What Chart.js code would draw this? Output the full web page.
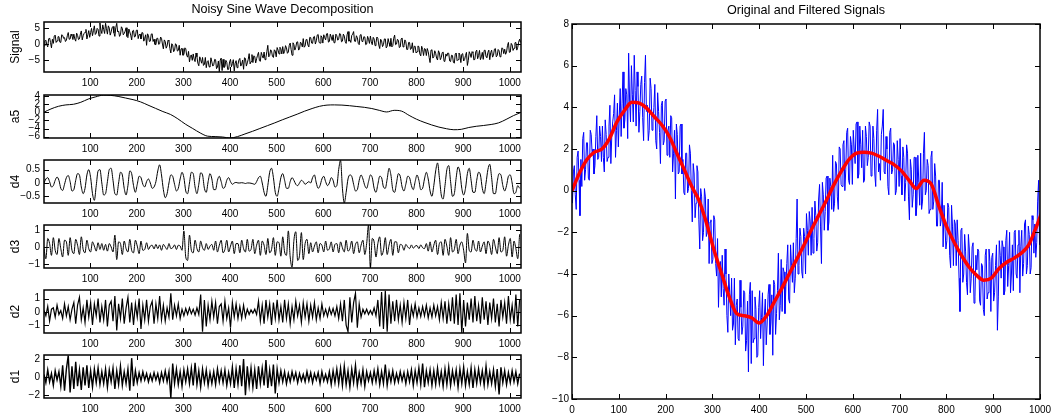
<!DOCTYPE html>
<html>
<head>
<meta charset="utf-8">
<script src="https://cdn.jsdelivr.net/npm/chart.js@4.4.0/dist/chart.umd.min.js"></script>
<style>
  html, body { margin: 0; padding: 0; background: #fff; }
  body { width: 1063px; height: 418px; position: relative; overflow: hidden; }
  canvas { position: absolute; }
</style>
</head>
<body>
<script>
// samples between stored points (signal and details), and for the approximation
const sampleStep = 4;
const a5Step = 16;

// noisy signal, read at samples 1, 5, 9, ... 1021
const signal = [
  -0.6, 1.2, -0.9, 1.9, -1.2, 0.2, 2.8, 1.0, 2.3, 0.5, 2.7, 2.0, 1.2, 3.6, 1.6, 2.6,
  3.1, 0.9, 2.7, 1.6, 4.1, 2.6, 3.7, 1.6, 4.2, 3.6, 2.6, 5.7, 3.4, 4.6, 6.6, 3.3,
  4.6, 6.5, 3.1, 5.0, 3.8, 5.5, 2.4, 6.5, 4.1, 2.9, 4.9, 3.3, 5.1, 2.0, 3.8, 1.3,
  4.3, 2.4, 4.4, 2.9, 1.6, 3.5, 1.8, -0.4, 2.7, 0.9, 3.2, 1.5, -0.2, 1.8, 0.1, 1.8,
  -1.5, 0.8, -0.6, 0.9, -2.8, -0.3, -2.0, -0.3, -2.0, -3.5, -1.4, -3.3, -1.4, -4.1, -5.6, -3.4,
  -3.1, -5.5, -4.0, -6.8, -4.9, -4.2, -6.4, -7.4, -5.2, -7.2, -5.6, -6.5, -4.9, -7.2, -8.7, -4.4,
  -4.8, -7.1, -5.7, -7.9, -4.8, -6.1, -8.4, -5.2, -6.4, -4.5, -6.3, -7.9, -4.5, -5.9, -3.0, -5.5,
  -5.8, -3.9, -4.6, -2.6, -5.4, -3.6, -2.5, -4.2, -0.4, -3.6, -2.2, -4.2, -2.2, -1.1, -3.1, -1.5,
  -0.8, -2.3, -1.2, -2.5, 0.3, -3.5, -0.2, -1.0, 0.7, -1.5, 0.2, 1.7, -0.6, 1.3, -0.9, 2.0,
  0.2, 2.4, 1.0, 3.0, 0.3, 2.2, 2.9, 1.3, 3.3, 0.8, 2.2, 2.9, 0.5, 2.6, 1.6, 3.1,
  0.9, 2.5, 0.2, 3.9, 1.3, 2.7, 3.9, 0.8, 2.0, -0.2, 3.0, 1.0, 2.2, 0.0, 1.5, 2.5,
  -0.2, 1.6, 0.4, 1.8, -1.4, 1.0, -0.2, 1.6, -0.7, 0.4, 1.8, -0.5, 2.8, 0.0, 1.2, -0.9,
  1.9, -0.5, 0.7, -1.7, 0.5, -1.4, -2.7, -0.7, -2.4, -0.8, -3.7, -1.7, -1.4, -3.6, -2.4, -5.8,
  -1.8, -4.0, -2.9, -5.0, -2.8, -4.2, -2.5, -5.1, -3.8, -2.9, -5.5, -3.6, -6.0, -2.8, -4.9, -3.4,
  -3.2, -5.3, -3.6, -6.7, -2.4, -4.2, -2.7, -4.8, -1.9, -3.6, -4.9, -2.6, -2.0, -4.0, -2.6, -4.9,
  -1.9, -3.5, -1.4, -3.6, -2.1, -3.7, -1.4, -1.6, -2.5, 0.5, -2.5, -0.3, -1.3, 0.5, -1.0, 1.5
];

// the same signal read in between, at samples 3, 7, 11, ... 1023
const signalMid = [
  0.9, -0.2, 1.6, 0.5, 1.5, 2.5, 0.5, 2.3, 0.6, 2.9, 1.8, 0.8, 2.6, 1.5, 3.1, 1.4,
  1.6, 3.4, 1.4, 3.1, 1.3, 3.3, 4.6, 2.9, 2.1, 4.9, 4.2, 3.0, 4.9, 2.5, 4.4, 6.0,
  3.3, 4.8, 5.7, 2.8, 5.1, 3.5, 5.2, 3.8, 2.4, 5.4, 2.9, 4.0, 2.4, 4.7, 2.8, 4.1,
  2.2, 4.3, 1.7, 3.1, 3.6, 0.9, 2.9, 3.2, 0.8, 3.1, 0.8, -0.1, 1.8, -0.1, 2.2, 0.0,
  1.3, -1.3, 1.2, -1.4, 0.1, -2.4, 0.1, -2.2, -0.4, -1.5, -3.5, -1.2, -3.5, -2.3, -3.8, -5.1,
  -4.7, -2.8, -6.0, -4.0, -6.0, -6.7, -4.2, -5.5, -7.1, -4.3, -6.9, -4.8, -7.7, -5.3, -5.0, -8.3,
  -7.3, -5.1, -8.0, -5.6, -7.1, -4.9, -6.0, -7.4, -5.0, -6.9, -5.0, -4.3, -6.9, -4.8, -6.2, -3.3,
  -3.7, -5.9, -3.5, -5.2, -2.6, -4.4, -4.9, -2.3, -4.0, -1.8, -3.9, -1.8, -4.0, -1.9, -1.0, -3.1,
  -3.0, -0.5, -2.9, -0.4, -1.7, 0.4, -1.9, 0.6, -1.9, 0.6, -0.9, -1.0, 1.4, -0.3, 2.1, 0.3,
  2.2, 0.0, 2.8, 0.5, 2.6, 0.3, 2.0, 3.2, 0.6, 3.1, 1.1, 0.4, 3.1, 1.2, 3.3, 0.7,
  3.1, 0.8, 2.9, 0.9, 0.5, 3.1, 0.9, 2.6, 0.2, 2.8, 0.8, 2.3, -0.2, 2.4, 0.2, 0.7,
  2.1, -0.5, 2.2, -0.3, 1.5, -0.8, 1.6, -1.2, 1.7, -0.7, -0.9, 1.8, -0.2, 1.5, -1.1, 1.6,
  -0.9, 1.3, -1.7, 0.5, -1.7, 0.4, -0.7, -2.8, -0.6, -3.1, -0.7, -3.6, -1.6, -1.4, -4.2, -1.9,
  -4.4, -2.1, -4.4, -2.1, -4.9, -2.7, -5.4, -3.1, -2.8, -5.3, -3.5, -5.7, -3.1, -5.2, -2.8, -5.8,
  -3.0, -4.9, -2.6, -5.1, -3.1, -2.4, -5.0, -2.4, -4.6, -2.0, -4.0, -4.8, -1.9, -4.2, -1.9, -2.7,
  -4.1, -1.6, -4.0, -1.7, -4.0, -1.2, -3.0, -3.2, -0.5, -2.6, 0.2, -2.0, 0.4, -1.9, 0.6, 0.5
];

// level-5 approximation (also the filtered red line), every 16th sample from 0
const a5 = [
  0.0, 0.85, 1.5, 1.85, 2.0, 2.5, 3.3, 3.85, 4.25, 4.2, 3.95, 3.55, 3.15, 2.6, 1.8, 1.0,
  0.2, -0.5, -1.6, -2.9, -4.0, -5.1, -5.9, -6.0, -6.1, -6.35, -6.0, -5.35, -4.7, -4.0, -3.3, -2.6,
  -1.85, -1.15, -0.45, 0.3, 0.95, 1.5, 1.8, 1.85, 1.8, 1.65, 1.45, 1.25, 0.95, 0.5, 0.1, 0.5,
  0.3, -0.75, -1.7, -2.45, -3.1, -3.65, -4.05, -4.3, -4.2, -3.75, -3.45, -3.25, -3.0, -2.6, -1.75, -0.8,
  0.0
];

const d4 = [
  0.0, 0.15, 0.2, 0.05, -0.15, -0.1, 0.1, 0.22, 0.1, -0.2, -0.28, -0.05, 0.2, 0.28, 0.05, -0.3,
  -0.25, 0.1, 0.35, 0.3, -0.15, -0.4, -0.2, 0.3, 0.5, 0.2, -0.4, -0.65, -0.1, 0.45, 0.5, 0.0,
  -0.45, -0.4, 0.05, 0.5, 0.55, 0.1, -0.4, -0.45, 0.0, 0.4, 0.3, -0.2, -0.45, -0.1, 0.45, 0.35,
  -0.1, -0.35, -0.05, 0.25, 0.2, -0.05, -0.15, 0.05, 0.15, 0.0, -0.2, -0.15, 0.05, 0.45, 0.68, 0.3,
  -0.25, -0.55, -0.4, 0.0, 0.3, 0.25, -0.05, -0.3, -0.2, 0.15, 0.4, 0.2, -0.3, -0.4, 0.0, 0.4,
  0.35, -0.15, -0.4, -0.05, 0.38, 0.3, -0.2, -0.35, 0.05, 0.35, 0.15, -0.25, -0.25, 0.1, 0.25, 0.05,
  -0.2, -0.15, 0.1, 0.2, 0.05, -0.05, 0.0, 0.02, 0.0, 0.0, 0.01, 0.0, -0.02, 0.0, 0.0, -0.01,
  -0.03, -0.05, 0.05, 0.2, 0.25, 0.0, -0.35, -0.5, -0.1, 0.4, 0.55, 0.2, -0.35, -0.5, -0.2, 0.2,
  0.35, 0.1, -0.2, -0.2, 0.05, 0.2, 0.1, -0.05, -0.1, 0.0, 0.1, 0.05, -0.05, 0.0, 0.05, 0.0,
  0.2, 0.3, 0.0, -0.2, -0.1, 0.15, 0.25, 0.05, -0.1, 0.0, 0.2, 0.1, -0.15, -0.1, 0.5, 0.85,
  -0.2, -0.75, -0.35, 0.15, 0.3, 0.25, -0.05, -0.3, -0.25, 0.1, 0.3, 0.15, -0.1, -0.2, 0.05, 0.3,
  0.2, -0.2, -0.35, -0.05, 0.25, 0.2, -0.15, -0.2, 0.15, 0.55, 0.3, -0.25, -0.35, 0.0, 0.35, 0.25,
  -0.15, -0.3, -0.05, 0.25, 0.2, -0.1, -0.25, 0.05, 0.3, 0.1, -0.25, -0.2, 0.15, 0.4, 0.15, -0.3,
  -0.5, -0.1, 0.45, 0.75, 0.2, -0.45, -0.6, -0.1, 0.5, 0.65, 0.05, -0.5, -0.4, 0.2, 0.6, 0.4,
  -0.2, -0.45, -0.2, 0.35, 0.55, 0.1, -0.35, -0.35, 0.1, 0.4, 0.3, -0.2, -0.4, 0.0, 0.5, 0.7,
  0.2, -0.4, -0.4, 0.05, 0.35, 0.3, -0.1, -0.3, -0.1, 0.25, 0.3, 0.0, -0.4, -0.35, -0.1, -0.2
];

const d3 = [
  -0.1, -0.7, 0.5, 0.2, -0.5, 0.55, -0.2, -0.45, 0.5, -0.1, -0.6, 0.4, 0.3, -0.5, 0.55, -0.2,
  -0.4, 0.45, 0.1, -0.45, 0.6, -0.15, -0.35, 0.4, -0.1, -0.3, 0.3, 0.05, -0.25, 0.25, -0.15, 0.2,
  -0.2, 0.15, -0.25, 0.2, 0.0, -0.3, 0.7, -0.75, 0.3, 0.2, -0.45, 0.35, -0.1, -0.3, 0.45, -0.2,
  -0.35, 0.4, 0.05, -0.4, 0.35, -0.2, -0.15, 0.25, -0.15, 0.05, 0.1, -0.12, 0.15, -0.1, 0.12, -0.2,
  0.15, 0.0, -0.15, 0.2, -0.1, -0.05, 0.12, -0.15, 0.1, 0.05, -0.2, 0.95, -0.6, -0.8, 0.7, -0.2,
  -0.35, 0.4, -0.1, -0.3, 0.35, -0.05, -0.2, 0.2, -0.15, 0.05, 0.15, -0.2, 0.35, -0.3, 0.1, 0.4,
  -0.35, -0.15, 0.4, -0.3, 0.05, 0.35, -0.4, 0.2, 0.2, -0.35, 0.4, -0.1, -0.3, 0.45, -0.25, -0.15,
  0.45, -0.4, 0.1, 0.4, -0.5, 0.35, 0.1, -0.45, 0.5, -0.35, -0.15, 0.55, -0.5, 0.3, 0.25, -0.55,
  0.6, -0.3, -0.5, 0.95, -0.6, -1.2, 0.4, 0.9, -0.8, -0.5, 0.85, -0.75, 0.2, 0.45, -0.4, 0.25,
  -0.3, 0.05, 0.3, -0.35, 0.2, 0.1, -0.3, 0.35, -0.2, -0.1, 0.3, -0.3, 0.15, 0.2, -0.35, 0.3,
  -0.05, -0.3, 0.4, -0.25, -0.1, 0.35, -0.4, 0.15, 0.3, -0.35, 0.1, 0.4, -0.45, 0.2, 1.3, -1.25,
  0.5, 0.3, -0.6, 0.2, 0.6, -0.5, -0.2, 0.55, -0.45, 0.1, 0.45, -0.5, 0.3, 0.3, -0.35, 0.15,
  0.1, -0.2, 0.15, 0.0, -0.1, 0.12, -0.08, 0.05, 0.08, -0.1, 0.12, -0.05, -0.1, 0.2, -0.25, 0.3,
  -0.3, 0.1, 0.4, -0.45, 0.2, 0.3, -0.5, 0.45, 0.05, -0.5, 0.55, -0.3, -0.15, 0.45, -0.4, 0.1,
  0.3, -0.2, -0.95, 0.8, -0.2, -0.3, 0.4, -0.1, -0.25, 0.35, -0.3, 0.05, 0.3, -0.4, 0.35, 0.1,
  -0.45, 0.45, 0.0, -0.4, 0.55, -0.3, -0.2, 0.6, -0.55, 0.1, 0.5, -0.6, 0.35, -0.1, -0.7, 0.75
];

const d2 = [
  0.1, -0.3, 0.4, -0.7, 0.2, 0.3, -0.4, 0.5, -0.2, 0.1, -0.5, 0.6, -0.3, 0.4, -0.6, 0.2,
  0.7, -0.9, 0.5, 1.1, -0.6, 0.3, -0.8, 0.9, -0.4, 0.7, -1.0, 0.6, -0.3, 1.0, -0.8, 0.4,
  -0.6, 0.9, -1.1, 0.5, 0.8, -0.7, 1.2, -1.4, 0.6, -0.5, 1.0, -0.9, 0.3, 1.1, -0.8, 0.7,
  -1.0, 0.6, -0.4, 1.0, -1.3, 0.5, -0.6, 0.9, -0.7, 0.4, 0.8, -0.9, 0.6, -0.5, 1.2, -0.6,
  0.5, -0.7, 0.3, -0.4, 1.4, -0.6, 0.5, -0.3, 0.6, -0.5, 0.2, -0.3, 0.25, -0.2, 0.3, -0.15,
  0.2, -0.25, 0.3, -0.2, 1.3, -1.5, 0.9, -1.1, 0.5, -0.6, 0.8, -0.4, 0.7, -0.9, 0.4, 0.6,
  -0.7, 0.8, -0.5, 0.3, -1.2, 0.7, -0.4, 0.6, -0.5, 0.4, -0.5, 0.5, -0.4, 0.2, -0.2, 0.15,
  -0.1, 0.2, -0.2, 0.8, -0.7, 0.5, -0.9, 0.9, -0.4, 0.6, -1.0, 0.7, -0.5, 0.9, -0.6, 0.4,
  -0.8, 0.9, -0.5, 0.6, -0.9, 0.4, -0.6, 0.8, -0.3, 0.5, -0.8, 0.7, -0.4, 0.6, -0.7, 0.5,
  -0.4, 0.7, -0.6, 0.3, -0.5, 0.6, -0.3, 0.2, -0.35, 0.3, -0.2, 0.25, -0.3, 0.4, -0.5, 0.6,
  -0.7, 0.9, -1.0, -1.5, 1.1, -0.8, 0.7, 1.4, -1.2, 0.6, -0.4, 0.2, -0.15, 0.2, -0.2, 0.1,
  -0.2, 0.3, -0.3, 0.9, -1.1, 1.5, -1.3, 1.6, -1.5, 1.3, -0.9, 0.8, -0.7, 0.9, -0.6, 0.5,
  -0.8, 0.7, -0.5, 0.9, -1.0, 0.4, -0.3, 0.6, -0.4, 0.3, -0.35, 0.4, -0.3, 0.5, -0.45, 0.3,
  -0.4, 0.5, -0.3, 0.4, -0.6, 0.7, -0.5, 0.8, -0.9, 0.6, -0.7, 1.1, -0.9, 1.3, -1.0, 1.4,
  -1.6, 0.9, -1.1, 0.7, -0.6, 1.0, -0.8, 1.2, -0.7, 0.5, -0.9, 1.1, -0.6, 0.8, -1.0, 0.7,
  -0.5, 1.0, -0.8, 0.6, -1.1, 0.9, -0.4, 0.7, -0.9, 1.2, -0.6, 0.5, -0.9, 1.3, -1.1, 0.9
];

const d1 = [
  0.3, -0.6, 0.8, -0.5, 0.4, -0.9, 0.7, -0.3, 0.6, -1.0, 1.3, -1.5, 0.9, 2.4, -1.7, 1.2,
  -1.3, 1.7, -1.0, 0.8, -1.4, 1.1, -0.9, 1.3, -1.2, 0.7, -1.1, 0.9, -0.6, 1.0, -0.8, 0.6,
  -0.7, 0.9, -1.1, 0.8, -0.5, 1.0, -1.3, 0.7, -0.8, 1.2, -0.9, 0.6, -0.7, 0.9, -1.5, 2.1,
  -1.0, 0.7, -0.6, 0.5, -0.4, 0.6, -0.3, 0.4, -0.5, 0.3, -0.4, 0.5, -0.3, 0.4, -0.6, 0.5,
  -0.4, 0.7, -0.5, 0.6, -2.3, 1.5, -0.7, 0.9, -0.8, 0.6, -1.0, 0.8, -0.5, 0.9, -0.7, 1.0,
  -0.9, 1.6, -0.8, 0.7, -1.1, 0.9, -0.6, 0.8, -0.9, 0.5, -0.7, 0.6, -0.8, 0.9, -0.5, 0.7,
  -0.6, 0.8, -0.9, 0.5, -0.7, 1.1, -1.2, 0.9, -0.8, 1.3, -1.0, 2.0, -2.0, 1.2, -0.9, 1.0,
  -1.1, 0.8, -1.3, 1.2, -0.7, 1.0, -0.9, 1.9, -1.2, 0.8, -1.0, 1.4, -1.8, 0.9, -0.6, 0.7,
  -0.5, 0.6, -0.7, 0.4, -0.5, 0.6, -0.3, 0.5, -0.6, 0.4, -0.4, 0.3, -0.5, 0.6, -0.4, 0.5,
  -0.6, 0.4, -0.3, 0.5, -0.7, 0.6, -0.4, 0.3, -0.5, 0.6, -0.8, 0.7, -0.6, 0.9, -0.7, 1.0,
  -0.9, 1.2, -0.8, 0.7, -1.1, 0.9, -0.6, 1.3, -0.9, 0.5, -0.7, 0.8, -1.0, 0.6, -0.4, 0.5,
  -0.6, 0.7, -0.5, 0.9, -0.8, 0.6, -0.7, 1.4, -0.9, 0.6, -0.5, 0.7, -0.6, 0.4, -0.5, 0.6,
  -0.4, 0.5, -0.7, 0.6, -0.5, 0.8, -0.9, 0.7, -0.6, 1.0, -0.8, 1.5, -1.1, 0.7, -0.6, 0.8,
  -0.9, 0.7, -0.8, 1.0, -0.7, 0.6, -1.0, 0.9, -0.8, 1.1, -0.9, 0.7, -0.6, 0.8, -1.1, 0.9,
  -0.7, 1.1, -0.9, 0.6, -0.8, 1.0, -1.2, 0.8, -0.7, 0.9, -0.6, 0.7, -0.9, 1.2, -0.8, 0.6,
  -0.7, 0.8, -1.0, 0.9, -1.9, 1.1, -0.6, 0.7, -0.8, 0.5, -0.6, 0.7, -0.5, 0.6, -0.7, 0.4
];

// axis labels and ticks
const panelNames = ['Signal', 'a5', 'd4', 'd3', 'd2', 'd1'];
const panelYTicks = [[-5, 0, 5], [-6, -4, -2, 0, 2, 4], [-0.5, 0, 0.5], [-1, 0, 1], [-1, 0, 1], [-2, 0, 2]];
const panelYRange = [[-8.75, 6.9], [-6.35, 4.3], [-0.75, 0.86], [-1.25, 1.3], [-1.6, 1.65], [-2.3, 2.45]];
const leftXTicks = [100, 200, 300, 400, 500, 600, 700, 800, 900, 1000];
const rightXTicks = [0, 100, 200, 300, 400, 500, 600, 700, 800, 900, 1000];
const rightYTicks = [-10, -8, -6, -4, -2, 0, 2, 4, 6, 8];

Chart.defaults.font.family = '"Liberation Sans", Arial, Helvetica, sans-serif';
Chart.defaults.color = '#000';

function toPoints(arr, step, start) {
  return arr.map((v, i) => ({ x: start + i * step, y: v }));
}
// interleave the two readings of the signal
const signalPts = [];
signal.forEach((v, i) => {
  signalPts.push({ x: 1 + i * sampleStep, y: v });
  signalPts.push({ x: 3 + i * sampleStep, y: signalMid[i] });
});
const a5Pts = toPoints(a5, a5Step, 0);
const panelData = [
  signalPts, a5Pts,
  toPoints(d4, sampleStep, 1), toPoints(d3, sampleStep, 1),
  toPoints(d2, sampleStep, 1), toPoints(d1, sampleStep, 1)
];
const panelSmooth = [false, true, true, true, false, false];
const panelLineW = [1, 1, 1, 1, 1.2, 1.4];

function minusSign(v) { return String(v).replace('-', '\u2212'); }
function fixedTicks(list) { return s => { s.ticks = list.map(v => ({ value: v })); }; }

// inward matlab-style ticks on all four sides, plus the box
const frameTicks = {
  id: 'frameTicks',
  afterDatasetsDraw(chart, args, opts) {
    const { ctx, chartArea: a, scales } = chart;
    const len = opts.len || 5;
    ctx.save();
    ctx.strokeStyle = '#000';
    ctx.lineWidth = 1;
    ctx.beginPath();
    scales.x.ticks.forEach(t => {
      const px = Math.round(scales.x.getPixelForValue(t.value)) + 0.5;
      ctx.moveTo(px, a.bottom); ctx.lineTo(px, a.bottom - len);
      ctx.moveTo(px, a.top); ctx.lineTo(px, a.top + len);
    });
    scales.y.ticks.forEach(t => {
      const py = Math.round(scales.y.getPixelForValue(t.value)) + 0.5;
      ctx.moveTo(a.left, py); ctx.lineTo(a.left + len, py);
      ctx.moveTo(a.right, py); ctx.lineTo(a.right - len, py);
    });
    ctx.stroke();
    ctx.lineWidth = 1.5;
    ctx.strokeRect(a.left, a.top, a.right - a.left, a.bottom - a.top);
    ctx.restore();
  }
};

function makeCanvas(left, top, w, h) {
  const c = document.createElement('canvas');
  c.width = w; c.height = h;
  c.style.left = left + 'px'; c.style.top = top + 'px';
  c.style.width = w + 'px'; c.style.height = h + 'px';
  document.body.appendChild(c);
  return c;
}

const titleFont = { size: 12.6, weight: 'normal', lineHeight: 1.2 };
const tickFont = { size: 10 };

// left column: six stacked panels
const boxTops = [22, 88, 153, 218, 283, 348];
const boxH = 50;
const titleH = 22;
panelNames.forEach((name, i) => {
  const padTop = 3;
  const top = i === 0 ? 0 : boxTops[i] - padTop;
  const headH = i === 0 ? titleH : padTop;
  const c = makeCanvas(0, top, 530, headH + boxH + 16);
  new Chart(c, {
    type: 'line',
    data: {
      datasets: [{
        data: panelData[i],
        borderColor: '#000',
        borderWidth: panelLineW[i],
        pointRadius: 0,
        cubicInterpolationMode: panelSmooth[i] ? 'monotone' : 'default',
        tension: 0
      }]
    },
    options: {
      responsive: false,
      animation: false,
      events: [],
      layout: { autoPadding: false, padding: { top: i === 0 ? 0 : padTop, right: 9, left: 0, bottom: 0 } },
      plugins: {
        legend: { display: false },
        tooltip: { enabled: false },
        title: {
          display: i === 0,
          text: 'Noisy Sine Wave Decomposition',
          fullSize: false,
          font: titleFont,
          padding: { top: 2, bottom: titleH - 2 - 12.6 * 1.2 }
        },
        frameTicks: { len: 5 }
      },
      scales: {
        x: {
          type: 'linear', min: 1, max: 1024,
          afterBuildTicks: fixedTicks(leftXTicks),
          afterFit: s => { s.height = 16; },
          grid: { display: false, drawTicks: false },
          border: { display: false },
          ticks: { font: tickFont, padding: 5, maxRotation: 0, autoSkip: false, callback: minusSign }
        },
        y: {
          min: panelYRange[i][0], max: panelYRange[i][1],
          afterBuildTicks: fixedTicks(panelYTicks[i]),
          afterFit: s => { s.width = 44; },
          grid: { display: false, drawTicks: false },
          border: { display: false },
          title: { display: true, text: name, font: { size: 12 }, padding: { top: 8, bottom: 0 } },
          ticks: { font: tickFont, padding: 4, autoSkip: false, callback: minusSign }
        }
      }
    },
    plugins: [frameTicks]
  });
});

// right: original and filtered signals
const rc = makeCanvas(530, 0, 533, 418);
new Chart(rc, {
  type: 'line',
  data: {
    datasets: [
      { label: 'filtered', data: a5Pts, borderColor: '#ff0000', borderWidth: 3.5, pointRadius: 0, cubicInterpolationMode: 'monotone' },
      { label: 'original', data: signalPts, borderColor: '#0000ff', borderWidth: 1, pointRadius: 0, tension: 0 }
    ]
  },
  options: {
    responsive: false,
    animation: false,
    events: [],
    layout: { autoPadding: false, padding: { top: 0, right: 23, left: 0, bottom: 0 } },
    plugins: {
      legend: { display: false },
      tooltip: { enabled: false },
      title: {
        display: true,
        text: 'Original and Filtered Signals',
        fullSize: false,
        font: titleFont,
        padding: { top: 3, bottom: 24 - 3 - 12.6 * 1.2 }
      },
      frameTicks: { len: 5 }
    },
    scales: {
      x: {
        type: 'linear', min: 0, max: 1000,
        afterBuildTicks: fixedTicks(rightXTicks),
        afterFit: s => { s.height = 19; },
        grid: { display: false, drawTicks: false },
        border: { display: false },
        ticks: { font: tickFont, padding: 5, maxRotation: 0, autoSkip: false, callback: minusSign }
      },
      y: {
        min: -10, max: 8,
        afterBuildTicks: fixedTicks(rightYTicks),
        afterFit: s => { s.width = 42; },
        grid: { display: false, drawTicks: false },
        border: { display: false },
        ticks: { font: tickFont, padding: 3, autoSkip: false, callback: minusSign }
      }
    }
  },
  plugins: [frameTicks]
});
</script>
</body>
</html>
